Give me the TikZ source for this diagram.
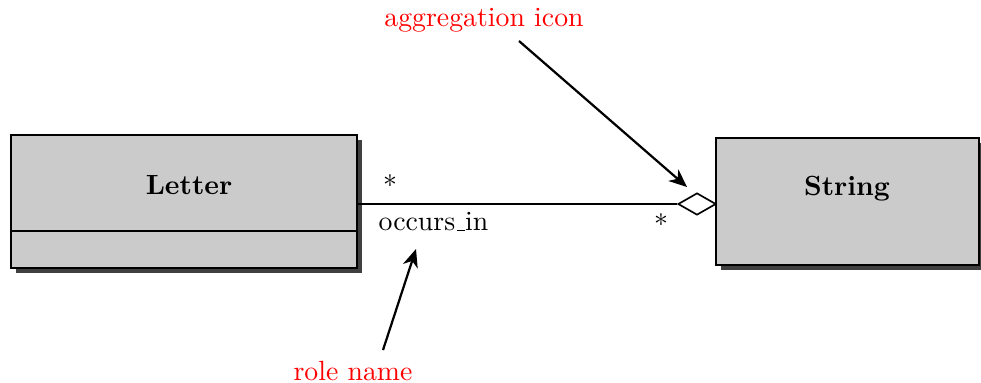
\documentclass[tikz,border=0pt]{standalone}
\usetikzlibrary{arrows.meta,shapes.geometric,shadows}
\definecolor{boxgray}{HTML}{CBCBCB}
\definecolor{shadowgray}{HTML}{404040}
\newcommand{\oldus}{\leavevmode\kern.06em\vbox{\hrule width.3em}}
\tikzset{
  classbox/.style={draw, line width=0.6pt, fill=boxgray, inner sep=0pt,
    drop shadow={shadow xshift=1.7pt, shadow yshift=-1.7pt, fill=shadowgray, opacity=1}},
  note/.style={text=red, inner sep=1pt},
  pointer/.style={line width=0.8pt, -{Stealth[length=6.5pt, width=5.5pt, inset=2pt]}},
  assoc/.style={line width=0.6pt},
}
\begin{document}
\begin{tikzpicture}[x=0.36pt, y=-0.36pt]
\useasboundingbox (0,0) rectangle (981,382);
% classes
\node[classbox, minimum width=346*0.36pt, minimum height=133*0.36pt] (letter) at (184,201.5) {};
\node[font=\bfseries] (lettertitle) at (189,185) {Letter};
\coordinate (divL) at (11,231);
\coordinate (divR) at (357,231);
\draw[line width=0.6pt] (divL) -- (divR);
\node[classbox, minimum width=263*0.36pt, minimum height=127*0.36pt] (string) at (847.5,201.5) {};
\node[font=\bfseries] (stringtitle) at (847,189) {String};
% aggregation diamond
\node[diamond, draw, line width=0.6pt, fill=white, inner sep=0pt, minimum width=38*0.36pt, minimum height=22*0.36pt] (agg) at (697,204) {};
\draw[assoc] (letter.east |- agg.west) -- (agg.west);
% multiplicities and role
\node (m1) at (390,181) {$*$};
\node (m2) at (661,220) {$*$};
\node (role) at (433.5,222) {occurs\oldus in};
% annotations
\node[note] (aggnote) at (484,20) {aggregation icon};
\node[note] (rolenote) at (353,371) {role name};
\coordinate (a1s) at (519,41);
\coordinate (a1e) at (687,187);
\coordinate (a2s) at (383,350);
\coordinate (a2e) at (416,249);
\draw[pointer] (a1s) -- (a1e);
\draw[pointer] (a2s) -- (a2e);
\end{tikzpicture}
\end{document}
